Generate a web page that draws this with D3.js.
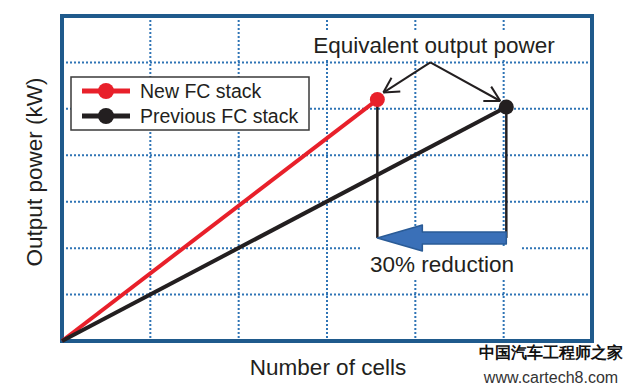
<!DOCTYPE html>
<html>
<head>
<meta charset="utf-8">
<script src="https://cdn.jsdelivr.net/npm/d3@7"></script>
<style>
  body { margin: 0; background: #fff; }
  text { font-family: "Liberation Sans", Arial, sans-serif; fill: #231f20; }
</style>
</head>
<body>
<div id="vis"></div>
<script>
// grid ticks (no labels on the original axes)
var xTicks = [0, 1, 2, 3, 4, 5, 6];
var yTicks = [0, 1, 2, 3, 4, 5, 6, 7];

var seriesNames = ["New FC stack", "Previous FC stack"];
var seriesColors = ["#e8202a", "#231f20"];
var newStack = [{x: 0, y: 0}, {x: 3.57, y: 5.2}];
var prevStack = [{x: 0, y: 0}, {x: 5.03, y: 5.04}];

// annotation anchors, in data units
var apex = {x: 4.17, y: 6.0};
var reductionY = 2.22;

var opts = {
  "width": 627,
  "height": 386,
  "left": 62,
  "right": 592,
  "top": 16,
  "bottom": 341
};

var svg = d3.select("#vis")
  .append("svg")
  .attr("width", opts.width)
  .attr("height", opts.height);

var x = d3.scaleLinear().domain([0, 6]).range([opts.left, opts.right]);
var y = d3.scaleLinear().domain([0, 7]).range([opts.bottom, opts.top]);

// dotted grid
var grid = svg.append("g")
  .attr("stroke", "#2f74b5")
  .attr("stroke-width", 2)
  .attr("stroke-dasharray", "2,2");

grid.selectAll(".vgrid")
  .data(xTicks.slice(1, -1))
  .enter().append("line")
  .attr("x1", d => x(d)).attr("x2", d => x(d))
  .attr("y1", y(7)).attr("y2", y(0));

grid.selectAll(".hgrid")
  .data(yTicks.slice(1, -1))
  .enter().append("line")
  .attr("x1", x(0)).attr("x2", x(6))
  .attr("y1", d => y(d)).attr("y2", d => y(d));

// frame
svg.append("rect")
  .attr("x", x(0)).attr("y", y(7))
  .attr("width", x(6) - x(0)).attr("height", y(0) - y(7))
  .attr("fill", "none")
  .attr("stroke", "#1f5a8c")
  .attr("stroke-width", 4);

// white patches behind annotation texts
svg.append("rect")
  .attr("x", 306).attr("y", 32).attr("width", 256).attr("height", 26)
  .attr("fill", "#fff");
svg.append("rect")
  .attr("x", 362).attr("y", 246).attr("width", 160).attr("height", 32)
  .attr("fill", "#fff");

// drop lines
var pNew = newStack[1], pPrev = prevStack[1];
svg.append("line")
  .attr("x1", x(pNew.x)).attr("x2", x(pNew.x))
  .attr("y1", y(pNew.y)).attr("y2", y(reductionY))
  .attr("stroke", "#231f20").attr("stroke-width", 2.5);
svg.append("line")
  .attr("x1", x(pPrev.x)).attr("x2", x(pPrev.x))
  .attr("y1", y(pPrev.y)).attr("y2", y(reductionY))
  .attr("stroke", "#231f20").attr("stroke-width", 2.5);

// blue reduction arrow
var tipX = x(pNew.x), tailX = x(pPrev.x), cy = y(reductionY);
var arrowPts = [
  [tipX, cy],
  [tipX + 45, cy - 13],
  [tipX + 45, cy - 6],
  [tailX, cy - 6],
  [tailX, cy + 6],
  [tipX + 45, cy + 6],
  [tipX + 45, cy + 13]
];
svg.append("path")
  .attr("d", d3.line()(arrowPts) + "Z")
  .attr("fill", "#3a70b8")
  .attr("stroke", "#2a5b96")
  .attr("stroke-width", 1.5)
  .attr("stroke-linejoin", "round");

// series lines
var line = d3.line().x(d => x(d.x)).y(d => y(d.y));
[newStack, prevStack].forEach(function(s, i) {
  svg.append("path")
    .attr("d", line(s))
    .attr("fill", "none")
    .attr("stroke", seriesColors[i])
    .attr("stroke-width", 4);
  svg.append("circle")
    .attr("cx", x(s[1].x)).attr("cy", y(s[1].y))
    .attr("r", 7.5)
    .attr("fill", seriesColors[i]);
});

// "Equivalent output power" pointers
function pointer(to, back) {
  var ax = x(apex.x), ay = y(apex.y);
  var tx = to[0], ty = to[1];
  var ang = Math.atan2(ty - ay, tx - ax);
  svg.append("line")
    .attr("x1", ax).attr("y1", ay).attr("x2", tx).attr("y2", ty)
    .attr("stroke", "#231f20").attr("stroke-width", 2);
  [-0.5, 0.5].forEach(function(da) {
    svg.append("line")
      .attr("x1", tx).attr("y1", ty)
      .attr("x2", tx - back * Math.cos(ang + da))
      .attr("y2", ty - back * Math.sin(ang + da))
      .attr("stroke", "#231f20").attr("stroke-width", 2);
  });
}
pointer([x(pNew.x) + 6, y(pNew.y) - 7], 17);
pointer([x(pPrev.x) - 6, y(pPrev.y) - 6], 17);

svg.append("text")
  .attr("x", 434).attr("y", 53)
  .attr("text-anchor", "middle")
  .attr("font-size", 22.5)
  .text("Equivalent output power");

svg.append("text")
  .attr("x", 442).attr("y", 272)
  .attr("text-anchor", "middle")
  .attr("font-size", 22.5)
  .text("30% reduction");

// legend
var lg = svg.append("g");
lg.append("rect")
  .attr("x", 71).attr("y", 77).attr("width", 238).attr("height", 53)
  .attr("fill", "#fff")
  .attr("stroke", "#3a3a3a")
  .attr("stroke-width", 1.5);
seriesNames.forEach(function(name, i) {
  var ly = 91 + i * 25;
  lg.append("line")
    .attr("x1", 82).attr("x2", 130).attr("y1", ly).attr("y2", ly)
    .attr("stroke", seriesColors[i]).attr("stroke-width", 5);
  lg.append("circle")
    .attr("cx", 106).attr("cy", ly).attr("r", 8)
    .attr("fill", seriesColors[i]);
  lg.append("text")
    .attr("x", 140).attr("y", ly + 7)
    .attr("font-size", 19.5)
    .text(name);
});

// axis titles
svg.append("text")
  .attr("x", 328).attr("y", 375)
  .attr("text-anchor", "middle")
  .attr("font-size", 22.5)
  .text("Number of cells");

svg.append("text")
  .attr("transform", "translate(42,172) rotate(-90)")
  .attr("text-anchor", "middle")
  .attr("font-size", 22.5)
  .text("Output power (kW)");

// watermark
svg.append("text")
  .attr("x", 551).attr("y", 358)
  .attr("text-anchor", "middle")
  .attr("font-family", "'Noto Sans CJK SC'")
  .attr("font-weight", "bold")
  .attr("font-size", 15.5)
  .style("fill", "#111")
  .text("中国汽车工程师之家");
svg.append("text")
  .attr("x", 551).attr("y", 383)
  .attr("text-anchor", "middle")
  .attr("font-family", "'DejaVu Sans Mono', monospace")
  .attr("font-size", 16)
  .style("fill", "#333")
  .text("www.cartech8.com");
</script>
</body>
</html>
